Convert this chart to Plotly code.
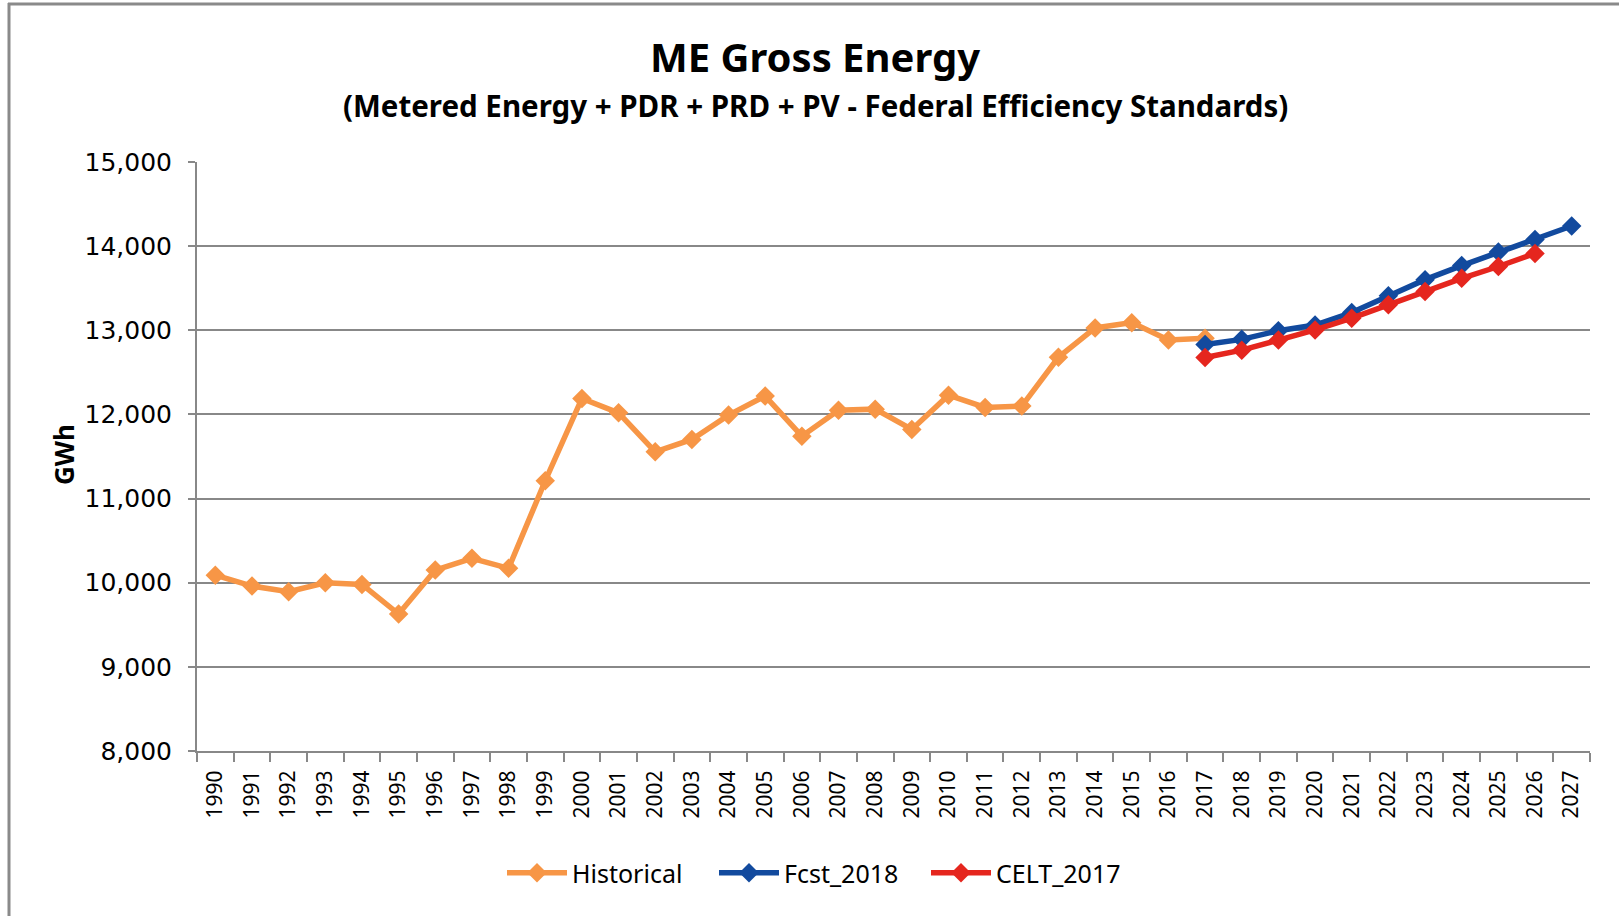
import plotly.graph_objects as go

years = [str(y) for y in range(1990, 2028)]

hist_years = [str(y) for y in range(1990, 2018)]
historical = [10090, 9960, 9893, 10000, 9980, 9628, 10151, 10290, 10171, 11212,
              12190, 12019, 11556, 11703, 11992, 12218, 11742, 12051, 12063, 11822,
              12229, 12083, 12099, 12679, 13028, 13091, 12884, 12904]

fcst_years = [str(y) for y in range(2017, 2028)]
fcst_2018 = [12832, 12892, 12995, 13063, 13211, 13410, 13602, 13769, 13929, 14080, 14239]

celt_years = [str(y) for y in range(2017, 2027)]
celt_2017 = [12677, 12764, 12884, 13004, 13144, 13303, 13462, 13618, 13758, 13913]

y_ticks = [8000, 9000, 10000, 11000, 12000, 13000, 14000, 15000]

W, H = 1619, 916
L, R, T, B = 197, 1590, 162, 751
PW, PH = R - L, B - T


def px(x):
    return (x - L) / PW


def py(y):
    return (B - y) / PH


ORANGE = "#F79646"
BLUE = "#124A9E"
RED = "#E5261E"
GRID = "#888888"

fig = go.Figure()
for name, xs, ys, col in [("Historical", hist_years, historical, ORANGE),
                          ("Fcst_2018", fcst_years, fcst_2018, BLUE),
                          ("CELT_2017", celt_years, celt_2017, RED)]:
    fig.add_trace(go.Scatter(x=xs, y=ys, name=name, mode="lines+markers",
                             line=dict(color=col, width=5.5),
                             marker=dict(symbol="diamond", size=15, color=col)))

fig.update_layout(
    width=W, height=H,
    margin=dict(l=L, r=W - R, t=T, b=H - B),
    paper_bgcolor="white", plot_bgcolor="white",
    font=dict(family="DejaVu Sans", color="black"),
    showlegend=True,
    legend=dict(orientation="h", x=px(502), xanchor="left", y=py(873), yanchor="middle",
                font=dict(family="Noto Sans", size=25), itemwidth=60,
                entrywidth=137, entrywidthmode="pixels",
                traceorder="normal"),
    xaxis=dict(type="category", categoryorder="array", categoryarray=years,
               tickvals=years, ticktext=years, tickson="boundaries",
               range=[-0.5, len(years) - 0.5],
               tickangle=-90, tickfont=dict(family="Noto Sans", size=21),
               ticks="outside", ticklen=9, tickwidth=1.5, tickcolor=GRID,
               ticklabelstandoff=9,
               showline=True, linecolor=GRID, linewidth=2,
               showgrid=False, zeroline=False),
    yaxis=dict(range=[8000, 15000], tickvals=y_ticks,
               ticktext=[f"{v:,}" for v in y_ticks],
               tickfont=dict(family="DejaVu Sans", size=25),
               ticks="outside", ticklen=7, tickwidth=1.5, tickcolor=GRID,
               ticklabelstandoff=11,
               showline=True, linecolor=GRID, linewidth=2,
               showgrid=True, gridcolor=GRID, gridwidth=2, zeroline=False),
    annotations=[
        dict(text="<b>ME Gross Energy</b>", x=px(815), y=py(57), xref="paper", yref="paper",
             showarrow=False, font=dict(family="Noto Sans", size=40, color="black"),
             xanchor="center", yanchor="middle"),
        dict(text="<b>(Metered Energy + PDR + PRD + PV - Federal Efficiency Standards)</b>",
             x=px(815), y=py(105), xref="paper", yref="paper", showarrow=False,
             font=dict(family="Noto Sans", size=29.5, color="black"),
             xanchor="center", yanchor="middle"),
        dict(text="<b>GWh</b>", x=px(64), y=py(455), xref="paper", yref="paper",
             showarrow=False, textangle=-90,
             font=dict(family="Noto Sans", size=26, color="black"),
             xanchor="center", yanchor="middle"),
    ],
    shapes=[
        dict(type="line", xref="paper", yref="paper", x0=px(9), x1=px(9), y0=py(3), y1=py(H + 10),
             line=dict(color="#8A8A8A", width=3)),
        dict(type="line", xref="paper", yref="paper", x0=px(8), x1=px(W + 10), y0=py(4), y1=py(4),
             line=dict(color="#8A8A8A", width=3)),
    ],
)

fig.write_html("out.html", config={"displayModeBar": False},
               post_script="document.body.style.margin='0';document.body.style.overflow='hidden';")
